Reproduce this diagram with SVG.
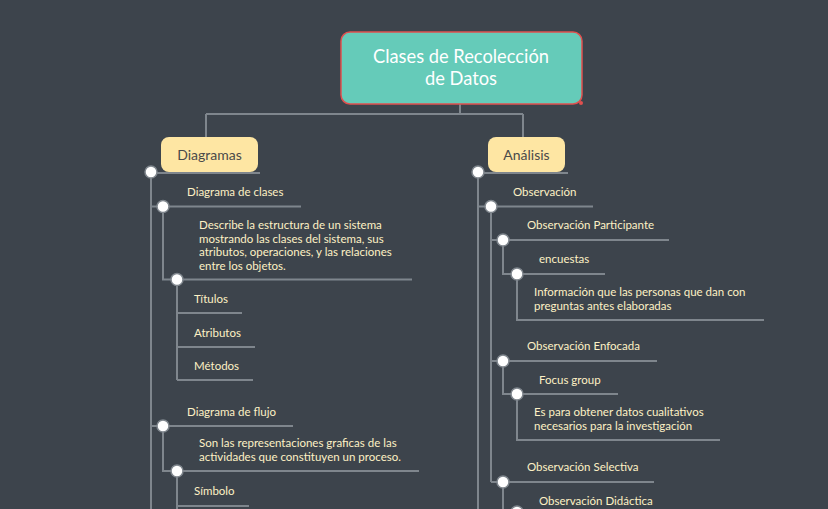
<svg xmlns="http://www.w3.org/2000/svg" width="828" height="509" viewBox="0 0 828 509">
<style>
.ln{fill:none;stroke:#7f868d;stroke-width:2}
.dot{fill:#ffffff;stroke:#7f868d;stroke-width:1.5}
.t{font-family:Lato,"Open Sans",sans-serif;font-size:11.5px;fill:#fdf1c5}
.sub{font-family:Lato,"Open Sans",sans-serif;font-size:14px;fill:#4a4a4a;text-anchor:middle}
.main{font-family:Lato,"Open Sans",sans-serif;font-size:18.3px;fill:#ffffff;text-anchor:middle}
</style>
<rect width="828" height="509" fill="#3d444c"/>
<g id="connectors">
<path class="ln" d="M460 104V114M206 114H523M206 114V138M523 114V138"/>
<path class="ln" d="M151 173H260M151 173V509"/>
<path class="ln" d="M151 206.5H301M163 206.5V279.5H412"/>
<path class="ln" d="M177 279.5V380M177 313H242M177 347H255M177 380H253"/>
<path class="ln" d="M151 426H293M163 426V471H419"/>
<path class="ln" d="M177 471V509M177 506H249"/>
<path class="ln" d="M478 173H568M478 173V509"/>
<path class="ln" d="M478 206.5H593M491 206.5V482"/>
<path class="ln" d="M491 240H669M503 240V274H605M517 274V320H764"/>
<path class="ln" d="M491 361H657M503 361V394H618M517 394V440H720"/>
<path class="ln" d="M491 482H654M503 482V509"/>
<circle class="dot" cx="151" cy="172" r="6"/>
<circle class="dot" cx="163" cy="206.5" r="6"/>
<circle class="dot" cx="177" cy="279.5" r="6"/>
<circle class="dot" cx="163" cy="426" r="6"/>
<circle class="dot" cx="177" cy="471" r="6"/>
<circle class="dot" cx="478" cy="172" r="6"/>
<circle class="dot" cx="491" cy="206.5" r="6"/>
<circle class="dot" cx="503" cy="240" r="6"/>
<circle class="dot" cx="517" cy="274" r="6"/>
<circle class="dot" cx="503" cy="361" r="6"/>
<circle class="dot" cx="517" cy="394" r="6"/>
<circle class="dot" cx="503" cy="482" r="6"/>
<circle class="dot" cx="517" cy="512" r="6"/>
</g>
<g id="central">
<rect x="341" y="32" width="241" height="72" rx="9" fill="#65cbb9" stroke="#e0504f" stroke-width="1.5"/>
<circle cx="581" cy="103" r="2" fill="#e0504f"/>
<text class="main" x="461" y="63">Clases de Recolección</text>
<text class="main" x="461" y="85">de Datos</text>
</g>
<g id="diagramas">
<rect x="161" y="137" width="97" height="35" rx="8" fill="#fee6a3"/>
<text class="sub" x="209.5" y="160">Diagramas</text>
</g>
<g id="analisis">
<rect x="488" y="137" width="77" height="35" rx="8" fill="#fee6a3"/>
<text class="sub" x="526.5" y="160">Análisis</text>
</g>
<g id="diagrama-clases"><text class="t" x="187" y="196">Diagrama de clases</text></g>
<g id="desc-clases"><text class="t" x="199" y="229">Describe la estructura de un sistema</text><text class="t" x="199" y="242.5">mostrando las clases del sistema, sus</text><text class="t" x="199" y="256">atributos, operaciones, y las relaciones</text><text class="t" x="199" y="269.5">entre los objetos.</text></g>
<g id="titulos"><text class="t" x="194" y="303">Títulos</text></g>
<g id="atributos"><text class="t" x="194" y="337">Atributos</text></g>
<g id="metodos"><text class="t" x="194" y="370">Métodos</text></g>
<g id="diagrama-flujo"><text class="t" x="187" y="416">Diagrama de flujo</text></g>
<g id="desc-flujo"><text class="t" x="199" y="447">Son las representaciones graficas de las</text><text class="t" x="199" y="461">actividades que constituyen un proceso.</text></g>
<g id="simbolo"><text class="t" x="194" y="495">Símbolo</text></g>
<g id="observacion"><text class="t" x="513" y="196">Observación</text></g>
<g id="obs-participante"><text class="t" x="527" y="229">Observación Participante</text></g>
<g id="encuestas"><text class="t" x="539" y="263">encuestas</text></g>
<g id="info"><text class="t" x="534" y="296">Información que las personas que dan con</text><text class="t" x="534" y="309.5">preguntas antes elaboradas</text></g>
<g id="obs-enfocada"><text class="t" x="527" y="350">Observación Enfocada</text></g>
<g id="focus"><text class="t" x="539" y="384">Focus group</text></g>
<g id="es-para"><text class="t" x="534" y="416">Es para obtener datos cualitativos</text><text class="t" x="534" y="429.5">necesarios para la investigación</text></g>
<g id="obs-selectiva"><text class="t" x="527" y="471">Observación Selectiva</text></g>
<g id="obs-didactica"><text class="t" x="539" y="505">Observación Didáctica</text></g>
</svg>
